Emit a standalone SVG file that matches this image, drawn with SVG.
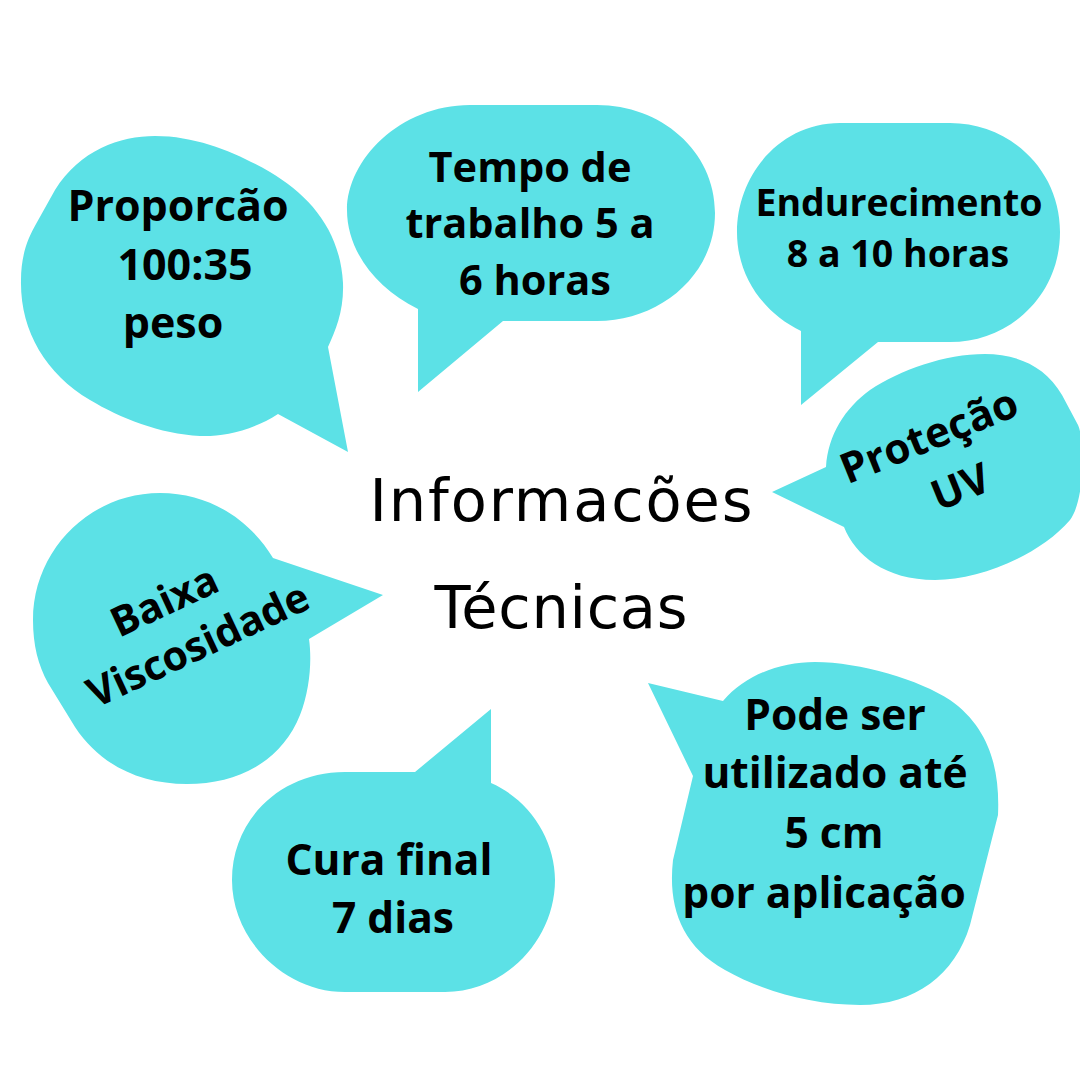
<svg xmlns="http://www.w3.org/2000/svg" width="1080" height="1080" viewBox="0 0 1080 1080">
<style>
.b{fill:#5ce1e6;stroke:none}
.t{font-family:"Open Sans","Noto Sans","DejaVu Sans",sans-serif;font-weight:700;fill:#000;text-anchor:middle}
.h{font-family:"DejaVu Sans","Liberation Sans",sans-serif;font-weight:400;fill:#000;text-anchor:middle;font-size:59px}
</style>
<rect width="1080" height="1080" fill="#fff"/>
<g id="proporcao">
<path class="b" d="M 328 347 L 348 452 L 278 414 C 250 432 220 437 200 436 C 160 434 120 418 90 400 C 45 373 20 330 21 280 C 21 255 28 238 36 224 L 55 190 C 80 150 120 136 155 136 C 200 136 240 155 270 172 C 310 196 340 230 343 283 C 344 310 336 330 328 347 Z"/>
<text class="t" font-size="43"><tspan x="178" y="221">Proporcão</tspan><tspan x="185" y="280">100:35</tspan><tspan x="173" y="338">peso</tspan></text>
</g>
<g id="tempo">
<path class="b" d="M 418 309 L 418 392 L 503 321 L 597 321 C 660 321 715 275 715 213 C 715 150 660 105 597 105 L 470 105 C 400 105 347 160 347 210 C 347 250 375 288 418 309 Z"/>
<text class="t" font-size="41.5"><tspan x="530" y="182">Tempo de</tspan><tspan x="530" y="238">trabalho 5 a</tspan><tspan x="535" y="295">6 horas</tspan></text>
</g>
<g id="endurecimento">
<path class="b" d="M 801 331 L 801 405 L 878 342 L 950 342 C 1010 342 1060 295 1060 232 C 1060 170 1010 123 950 123 L 840 123 C 780 123 737 175 737 232 C 737 275 762 312 801 331 Z"/>
<text class="t" font-size="37.5"><tspan x="899" y="216">Endurecimento</tspan><tspan x="898" y="267">8 a 10 horas</tspan></text>
</g>
<g id="protecao">
<path class="b" d="M 826 467 L 772 492 L 844 527 C 855 555 885 580 935 580 C 980 580 1040 555 1070 520 C 1085 500 1085 440 1078 425 L 1062 395 C 1045 365 1015 354 985 354 C 945 354 900 370 870 390 C 845 408 828 435 826 467 Z"/>
<g transform="translate(946 462) rotate(-22)"><text class="t" font-size="42"><tspan x="-6" y="-16">Proteção</tspan><tspan x="4" y="43">UV</tspan></text></g>
</g>
<g id="baixa">
<path class="b" d="M 273 558 L 383 595 L 309 639 C 312 660 310 690 300 715 C 282 760 240 784 187 784 C 140 784 100 765 75 727 L 48 683 C 38 665 33 645 33 620 C 33 550 90 493 160 493 C 210 493 250 520 273 558 Z"/>
<g transform="translate(180 625) rotate(-25)"><text class="t" font-size="41"><tspan x="-4" y="-14">Baixa</tspan><tspan x="8" y="40">Viscosidade</tspan></text></g>
</g>
<g id="cura">
<path class="b" d="M 415 772 L 491 709 L 491 783 C 530 800 555 840 555 880 C 555 940 505 992 445 992 L 345 992 C 285 992 232 940 232 880 C 232 820 280 772 345 772 Z"/>
<text class="t" font-size="42.5"><tspan x="389" y="875">Cura final</tspan><tspan x="393" y="933">7 dias</tspan></text>
</g>
<g id="pode">
<path class="b" d="M 723 701 C 745 675 780 662 815 662 C 860 662 920 680 950 700 C 990 728 1000 770 998 815 L 970 925 C 955 975 915 1005 860 1005 C 810 1005 760 990 725 970 C 680 945 668 905 673 860 L 693 776 L 648 683 Z"/>
<text class="t" font-size="42.5"><tspan x="835" y="730">Pode ser</tspan><tspan x="835" y="788">utilizado até</tspan><tspan x="834" y="848">5 cm</tspan><tspan x="824" y="908">por aplicação</tspan></text>
</g>
<g id="titulo">
<text class="h" x="561" y="521" textLength="383">Informacões</text>
<text class="h" x="561" y="628" textLength="253">Técnicas</text>
</g>
</svg>
